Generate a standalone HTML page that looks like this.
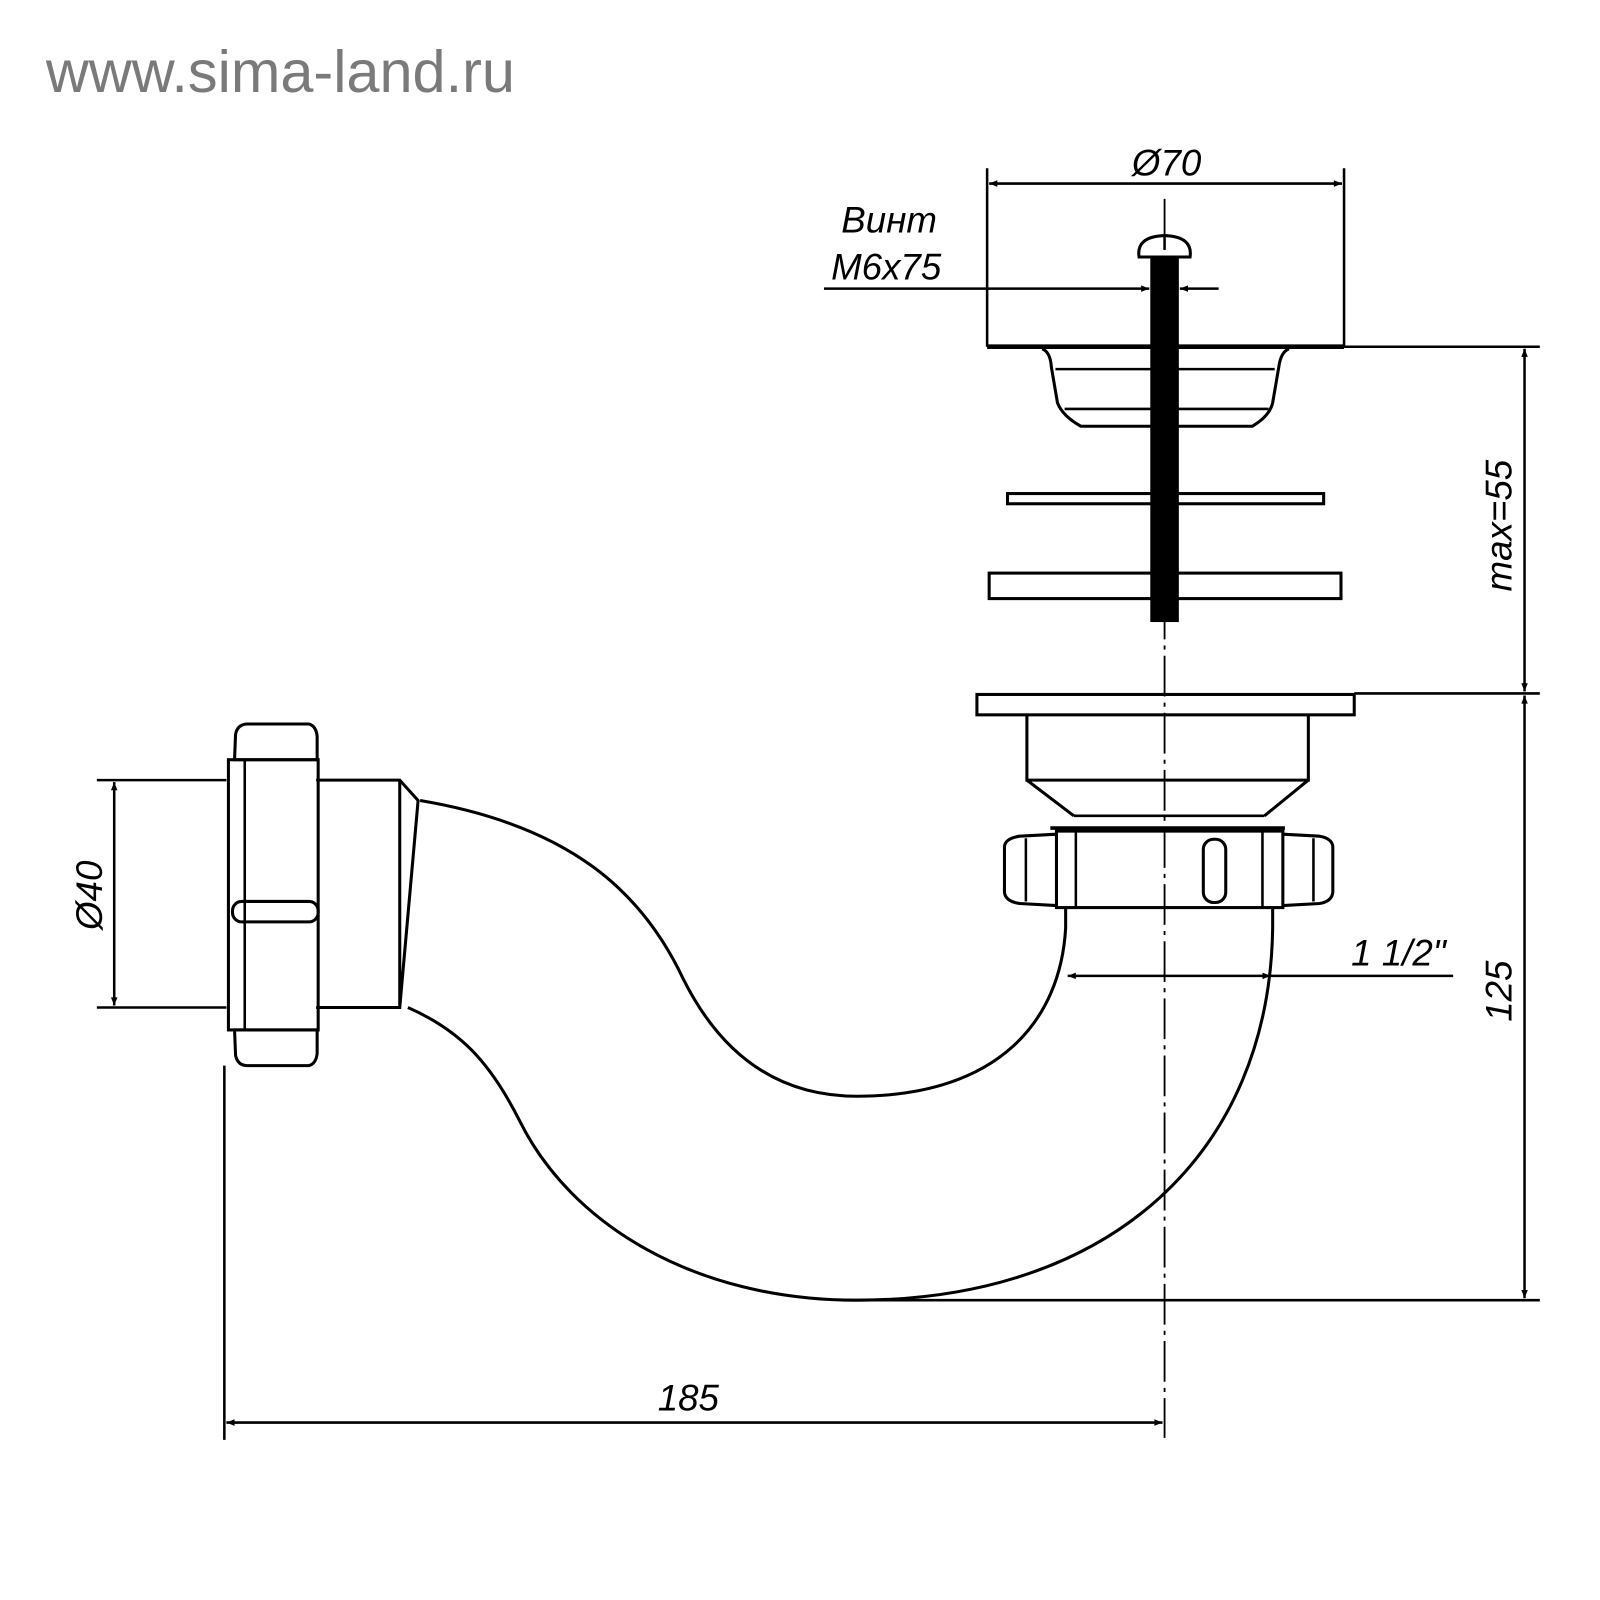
<!DOCTYPE html>
<html><head><meta charset="utf-8"><style>body{margin:0;background:#fff}svg{display:block}</style></head><body>
<svg width="1600" height="1600" viewBox="0 0 1569 1569" xmlns="http://www.w3.org/2000/svg">
<defs>
<marker id="a" viewBox="0 0 10 10" refX="10" refY="5" markerWidth="14" markerHeight="8" orient="auto-start-reverse" markerUnits="userSpaceOnUse"><path d="M0,1 L10,5 L0,9 z" fill="#000"/></marker>
</defs>
<text x="45" y="90" font-family="Liberation Sans, sans-serif" font-size="58" fill="#7a7a7a" textLength="460" lengthAdjust="spacingAndGlyphs">www.sima-land.ru</text>
<g fill="none" stroke="#000" stroke-width="2.5">
<line x1="1142" y1="195" x2="1142" y2="1410" stroke-width="1.8" stroke-dasharray="40,6,4,6"/>
<line x1="968" y1="165" x2="968" y2="340"/>
<line x1="1318" y1="165" x2="1318" y2="340"/>
<line x1="968" y1="340" x2="1318" y2="340" stroke-width="4.5"/>
<line x1="1318" y1="340" x2="1510" y2="340"/>
<line x1="970" y1="180" x2="1316" y2="180" marker-start="url(#a)" marker-end="url(#a)"/>
<path d="M1117,252 Q1114,232 1142,231 Q1170,232 1167,252 Z" stroke-width="3"/>
<line x1="1142" y1="231" x2="1142" y2="245"/>
<rect x="1128" y="252" width="28" height="358" fill="#000" stroke="none"/>
<line x1="808" y1="283" x2="1127" y2="283" marker-end="url(#a)"/>
<line x1="1195" y1="283" x2="1157" y2="283" marker-end="url(#a)"/>
<path d="M1022,342 Q1030,345 1031,360 L1037,395 Q1042,408 1060,418 L1228,418 Q1245,408 1248,395 L1254,360 Q1256,345 1264,342" stroke-width="3"/>
<line x1="1035" y1="362" x2="1250" y2="362"/>
<line x1="1044" y1="401" x2="1244" y2="401"/>
<rect x="988" y="484" width="310" height="10" stroke-width="3"/>
<rect x="970" y="562" width="345" height="25" stroke-width="3"/>
<rect x="958" y="681" width="370" height="20" stroke-width="3"/>
<line x1="1328" y1="680" x2="1510" y2="680"/>
<path d="M1007,701 L1007,765 L1283,765 L1283,701 M1007,765 L1053,800 M1283,765 L1240,800" stroke-width="3"/>
<line x1="1053" y1="800" x2="1240" y2="800"/>
<rect x="1036" y="815" width="222" height="75" stroke-width="3"/>
<line x1="1030" y1="812" x2="1260" y2="812" stroke-width="3.5"/>
<line x1="1055" y1="815" x2="1055" y2="890"/>
<line x1="1238" y1="815" x2="1238" y2="890"/>
<path d="M1036,818 L1000,820 Q986,822 985,830 L985,875 Q986,884 1000,886 L1036,888" stroke-width="3"/>
<line x1="1006" y1="822" x2="1006" y2="884"/>
<path d="M1258,818 L1294,820 Q1306,822 1307,830 L1307,875 Q1306,884 1294,886 L1258,888" stroke-width="3"/>
<line x1="1288" y1="822" x2="1288" y2="884"/>
<rect x="1180" y="823" width="22" height="62" rx="10" stroke-width="3"/>
<path d="M1045,890 L1045,910 C1040,1000 980,1075 840,1075 C750,1075 700,1020 670,960 C630,875 560,810 412,785" stroke-width="3"/>
<path d="M1248,890 L1248,910 C1245,1130 1090,1275 840,1275 C680,1275 560,1200 510,1100 C480,1040 450,1010 400,988" stroke-width="3"/>
<path d="M310,765 L392,765 L410,785 L392,988 L310,988 M392,765 L392,988" stroke-width="3"/>
<path d="M230,745 L231,720 Q233,710 243,710 L303,710 Q310,712 311,722 L311,745 Z" stroke-width="3"/>
<path d="M230,1010 L231,1035 Q233,1045 243,1045 L303,1045 Q310,1043 311,1033 L311,1010 Z" stroke-width="3"/>
<rect x="224" y="745" width="88" height="265" stroke-width="3"/>
<line x1="240" y1="745" x2="240" y2="1010"/>
<rect x="228" y="884" width="84" height="20" rx="9" stroke-width="3"/>
<line x1="95" y1="765" x2="222" y2="765"/>
<line x1="95" y1="988" x2="222" y2="988"/>
<line x1="112" y1="767" x2="112" y2="986" marker-start="url(#a)" marker-end="url(#a)"/>
<line x1="220" y1="1045" x2="220" y2="1412"/>
<line x1="222" y1="1395" x2="1140" y2="1395" marker-start="url(#a)" marker-end="url(#a)"/>
<line x1="1495" y1="342" x2="1495" y2="678" marker-start="url(#a)" marker-end="url(#a)"/>
<line x1="1495" y1="682" x2="1495" y2="1273" marker-start="url(#a)" marker-end="url(#a)"/>
<line x1="830" y1="1275" x2="1510" y2="1275"/>
<line x1="1047" y1="957" x2="1246" y2="957" marker-start="url(#a)" marker-end="url(#a)"/>
<line x1="1246" y1="957" x2="1425" y2="957"/>
</g>
<g font-family="Liberation Sans, sans-serif" font-style="italic" font-size="36" fill="#000">
<text x="1110" y="172">Ø70</text>
<text x="825" y="228">Винт</text>
<text x="815" y="274">M6x75</text>
<text x="1325" y="947">1 1/2"</text>
<text x="645" y="1383">185</text>
<text transform="translate(100,912) rotate(-90)">Ø40</text>
<text transform="translate(1482,580) rotate(-90)">max=55</text>
<text transform="translate(1482,1002) rotate(-90)">125</text>
</g>
</svg>
</body></html>
